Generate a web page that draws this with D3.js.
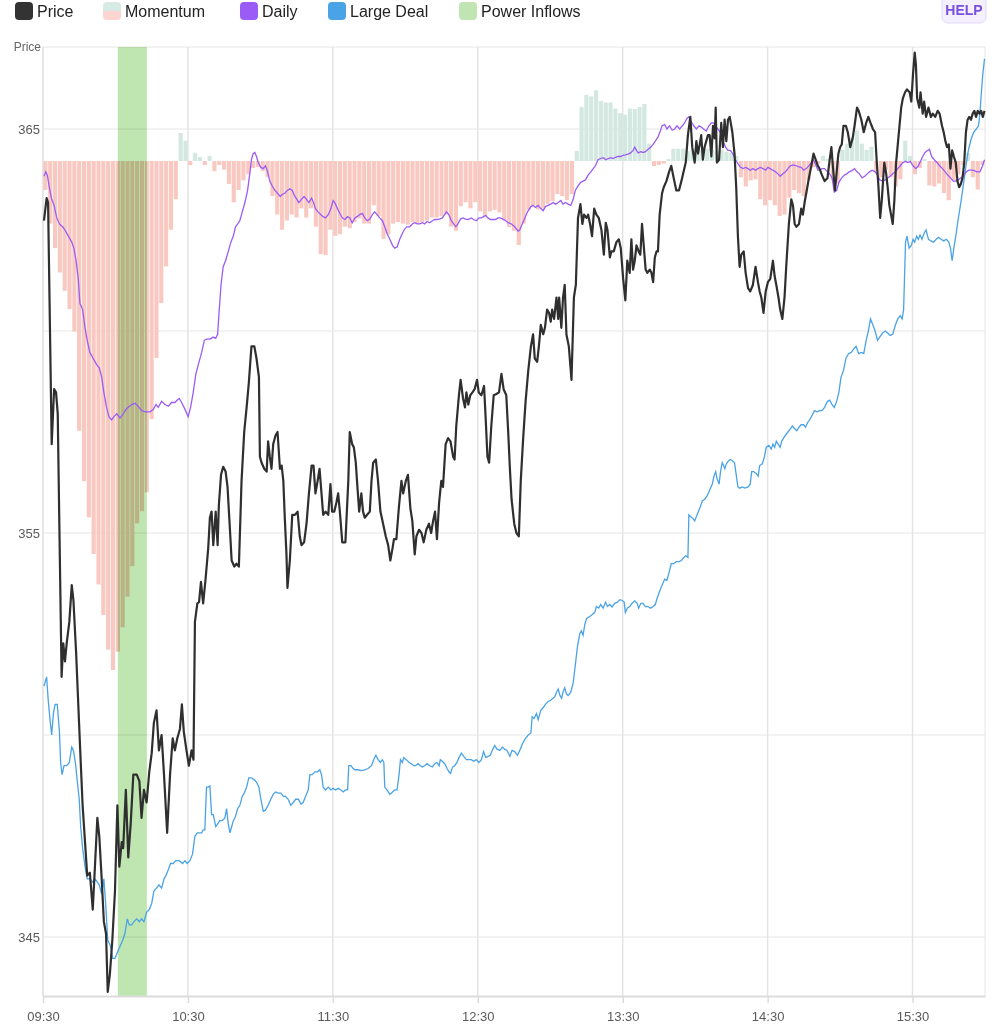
<!DOCTYPE html>
<html lang="en">
<head>
<meta charset="utf-8">
<style>
  body { margin: 0; background: #fff; font-family: "Liberation Sans", Arial, sans-serif; }
  .grid line { stroke: #e6e6e6; stroke-width: 1; }
  .vgrid line { stroke: #e4e4e4; stroke-width: 1.5; }
  .xaxis path, .xaxis line { stroke: #dcdcdc; }
  .xaxis path { stroke-width: 2; }
  .xaxis text, .yaxis text { fill: #5a5a5a; font-size: 13px; }
  .yaxis path, .yaxis line { display: none; }
  .legend text { font-size: 16px; fill: #222; }
</style>
</head>
<body>
<svg width="999" height="1024"></svg>
<script src="https://cdn.jsdelivr.net/npm/d3@7"></script>
<script>

// minutes since 09:30 -> value
var price = [[0.4,362.73],[1.5,363.29],[2.1,363.18],[3.6,357.2],[4.6,358.56],[5.4,358.48],[6.1,357.95],[6.8,355.08],[7.7,351.44],[8.4,352.27],[9.1,351.82],[9.8,352.27],[10.9,352.8],[11.9,353.71],[12.6,353.33],[13.7,352.05],[15.3,349.77],[16.4,348.26],[17.4,347.35],[18.3,346.52],[19.4,346.59],[20.6,345.68],[21.5,346.74],[22.5,347.95],[23.3,347.5],[24.3,346.44],[25.2,345.38],[26.1,345.08],[26.8,343.64],[27.7,344.09],[28.7,344.92],[29.8,346.14],[30.8,348.26],[31.6,346.74],[32.6,347.35],[33.2,347.2],[34.3,348.64],[35.3,346.97],[36.3,347.8],[37.4,349.02],[38.8,349.02],[39.9,348.86],[40.8,347.95],[41.8,348.64],[42.9,348.33],[44,349.09],[45,349.55],[45.9,350.3],[47,350.61],[48,349.62],[49.1,350],[50.1,349.02],[51.4,347.58],[52.6,349.02],[53.7,349.92],[54.6,349.62],[55.6,349.92],[56.7,350.15],[57.5,350.76],[58.3,350.08],[59.4,349.62],[60.4,349.24],[61.5,349.62],[62.3,349.39],[62.9,352.8],[63.9,353.26],[64.6,353.29],[65.4,353.79],[66.3,353.26],[67.3,353.86],[68.4,354.62],[69.1,355.38],[69.8,355.53],[70.5,354.7],[71.5,355.53],[72.3,354.7],[72.8,355.68],[73.7,356.44],[74.6,356.64],[75.6,356.52],[76.4,356.14],[77.4,355.08],[78.1,354.32],[79.2,354.17],[80.1,354.24],[81.1,354.17],[82.2,356.29],[83.3,357.5],[84.3,358.11],[85.2,358.71],[86.3,359.62],[87.5,359.62],[88.4,359.32],[89.4,358.86],[89.8,356.89],[90.5,356.74],[91.6,356.59],[92.6,356.52],[93.2,357.27],[93.9,356.89],[94.6,356.59],[95.3,357.2],[96.3,357.42],[97.1,357.5],[98.1,356.59],[98.8,356.67],[99.5,356.29],[100.1,355.38],[100.8,354.47],[101.2,353.64],[102.2,354.32],[103.2,355.45],[104.3,355.45],[105.4,355.53],[106.3,354.92],[107,354.7],[108.1,354.77],[109.1,355.23],[110.1,355.98],[111.2,356.67],[112,356.67],[112.8,355.98],[113.7,356.29],[114.5,356.59],[115.3,355.98],[116,355.45],[117,355.53],[118.1,355.45],[119,356.21],[119.7,355.53],[120.6,355.53],[121.5,355.76],[122.2,355.98],[122.9,355.53],[123.9,354.77],[125.2,354.77],[126.4,356.29],[127,357.5],[128,357.2],[128.7,357.12],[129.5,356.74],[130,356.29],[130.9,355.53],[131.8,355.98],[132.5,355.53],[133.2,355.38],[134.2,355.45],[135.3,355.53],[136,356.29],[136.7,356.74],[137.8,356.82],[138.7,356.29],[139.7,355.53],[140.8,355.23],[141.9,354.92],[142.9,354.7],[143.8,354.32],[144.7,354.62],[145.3,354.85],[146.3,354.85],[147.4,355.68],[148.4,356.29],[149.1,355.98],[150.2,356.29],[151.1,356.44],[152.1,355.61],[152.9,355.3],[153.9,354.47],[154.6,354.92],[155.7,355.08],[156.7,355],[157.6,354.77],[158.7,355.08],[159.8,355.23],[160.7,355],[161.5,355.3],[162.3,355.53],[163.1,354.85],[164,355.76],[164.9,356.29],[165.6,356.14],[166.7,357.2],[167.7,357.35],[168.7,357.27],[169.8,356.89],[170.4,356.82],[171.1,357.65],[172.2,358.41],[172.9,358.79],[173.9,358.33],[174.7,358.11],[175.3,358.48],[176.1,358.18],[176.9,358.41],[177.8,358.48],[178.7,358.56],[179.7,358.79],[180.4,358.48],[181.5,358.41],[182.6,358.64],[183.3,357.8],[184,356.89],[184.7,356.74],[185.6,357.65],[186.6,358.41],[187.7,358.44],[188.8,358.48],[189.8,358.94],[190.7,358.56],[191.8,358.41],[192.6,357.5],[193.3,356.59],[194,355.83],[195.1,355.23],[196,355],[197,354.92],[197.8,356.29],[198.8,357.35],[199.8,358.26],[200.9,359.02],[202,359.62],[202.9,359.92],[203.6,359.32],[204.6,359.24],[205.3,359.62],[206.1,360.15],[207.1,359.92],[207.8,360.08],[208.7,360.53],[209.5,360.45],[210.2,360.23],[210.8,360.53],[211.6,360.3],[212.6,360.83],[213.3,360.3],[213.7,360.83],[214.6,360.08],[215.3,360.83],[216,361.14],[216.7,359.92],[217.7,359.62],[218.8,358.79],[219.8,360.83],[220.6,361.14],[221.5,362.8],[222.5,363.14],[223.3,362.65],[224,362.88],[225,362.8],[225.7,362.88],[226.5,362.65],[227.3,362.35],[228.2,363.03],[229.1,362.88],[230.1,362.8],[231.2,362.5],[232.2,361.89],[233,362.68],[233.7,362.5],[234.7,361.82],[235.3,361.97],[236.3,361.97],[237.4,362.2],[238.4,362.27],[239.2,362.05],[240.2,361.29],[241.1,360.76],[241.9,361.74],[242.9,361.44],[243.6,362.27],[244.3,361.52],[245,361.74],[245.7,362.12],[246.6,361.97],[247.3,361.89],[248,362.65],[248.9,361.97],[249.5,361.52],[250.2,361.44],[251.2,361.52],[251.9,361.44],[252.6,361.21],[253.3,361.82],[254,361.97],[254.6,361.97],[255.3,362.88],[256.3,363.41],[257,363.56],[258.1,363.71],[259.2,363.94],[260.1,364.09],[261.1,363.79],[262.2,363.48],[263.3,363.48],[264.3,363.71],[265.2,363.94],[266.1,364.17],[267,364.85],[268,365.3],[268.8,364.55],[269.8,364.17],[270.5,364.7],[271.2,364.39],[271.9,364.62],[272.5,364.85],[273.2,364.24],[273.9,364.55],[274.6,364.7],[275.3,364.85],[276,364.85],[276.7,364.32],[277.4,365.08],[278.1,364.77],[278.5,365.53],[279,364.17],[279.9,364.24],[280.8,365.15],[281.5,364.55],[282.2,365.23],[282.9,364.7],[283.6,365.23],[284.3,365.3],[285.4,364.92],[286.3,364.39],[287,363.56],[287.7,362.35],[288.4,361.59],[289.1,361.89],[290.1,361.97],[290.9,361.44],[291.9,361.06],[292.8,360.98],[293.9,361.14],[295,361.59],[296,361.21],[296.7,360.98],[297.4,360.83],[298.3,360.45],[299.2,360.98],[300.1,361.21],[301.1,361.29],[302.2,361.74],[302.9,361.36],[303.6,361.14],[304.5,360.83],[305.2,360.53],[306.1,360.3],[307,360.83],[307.7,361.59],[308.8,362.65],[309.8,363.26],[310.5,363.11],[311.2,362.65],[311.9,362.58],[313,362.65],[313.9,363.03],[314.6,362.88],[315.3,363.18],[316,363.41],[317.1,363.79],[318.1,364.09],[319,364.39],[319.9,364.24],[320.8,364.09],[321.5,364.02],[322.5,363.86],[323.6,363.71],[324.8,363.79],[325.7,364.24],[326.4,364.55],[327.1,364.02],[327.9,363.48],[328.6,363.94],[329.3,364.39],[330,364.55],[330.7,364.62],[331.4,365.08],[332.4,365.08],[333.2,364.92],[334.2,364.55],[335.2,364.77],[336,365.08],[337,365.53],[337.7,365.45],[338.8,365.23],[339.8,364.92],[340.8,365.15],[341.7,365.3],[342.6,365.15],[343.6,365],[344.5,364.92],[345.2,364.17],[345.9,363.56],[346.6,362.8],[347.3,363.26],[348.3,364.17],[349,363.94],[349.7,363.56],[350.4,363.11],[351.1,362.88],[351.8,362.65],[352.5,363.26],[353.2,364.17],[353.9,364.62],[354.6,365.08],[355.3,365.53],[356,365.76],[356.9,365.91],[357.7,365.98],[358.8,365.91],[359.5,365.68],[360.2,366.36],[360.9,366.89],[361.4,366.59],[361.9,365.76],[362.8,365.53],[363.3,365.91],[364.2,365.38],[364.8,365.68],[365.6,365.3],[366.6,365.53],[367.6,365.3],[368.4,365.38],[369.4,365.3],[370.4,365.45],[371.2,365.38],[372.2,365.08],[372.9,364.92],[373.6,364.7],[374.3,364.55],[375,364.62],[375.7,364.02],[376.4,364.47],[377.1,364.32],[377.9,364.17],[378.6,363.71],[379.3,363.56],[380,363.64],[380.7,363.79],[381.4,364.17],[382.1,364.92],[382.8,365.23],[383.5,365.3],[384.2,365.23],[384.9,365.38],[385.6,365.45],[386.3,365.3],[387,365.45],[387.7,365.38],[388.4,365.45],[389.1,365.3],[389.8,365.45]];

var daily = [[0.4,363.83],[1.2,363.94],[1.8,363.86],[2.6,363.56],[3.6,363.26],[4.6,363.11],[5.7,362.8],[6.8,362.65],[8.1,362.58],[9.1,362.5],[10.5,362.35],[11.9,362.2],[12.8,362.05],[13.7,361.74],[14.6,361.29],[15.3,360.68],[16.4,360.53],[17.4,360.08],[18.3,359.77],[19.4,359.47],[20.8,359.32],[22.2,359.17],[23.3,359.09],[24.3,358.86],[25.2,358.48],[26.3,358.11],[27.3,357.88],[28.4,357.8],[29.4,357.88],[30.5,357.95],[31.9,357.85],[33.2,357.95],[34.3,358.06],[35.3,358.11],[36.7,358.18],[38.1,358.21],[39.4,358.14],[40.8,358.03],[42.6,358],[44.3,358],[45.7,358.06],[46.8,358.18],[47.7,358.11],[49.1,358.26],[50.5,358.18],[51.9,358.14],[53.2,358.23],[54.6,358.23],[55.6,358.29],[56.4,358.33],[57.4,358.23],[58.8,358.06],[60.1,357.88],[61.1,358.11],[62.2,358.48],[63.3,358.94],[64.3,359.17],[65.7,359.47],[66.8,359.77],[67.7,359.8],[69.1,359.8],[70.5,359.85],[71.5,359.82],[72.3,359.92],[72.8,360.38],[73.7,361.14],[74.6,361.59],[75.6,361.74],[76.7,361.97],[77.8,362.2],[78.8,362.35],[79.7,362.58],[80.6,362.65],[81.5,362.73],[82.5,362.95],[83.6,363.18],[84.7,363.48],[85.7,363.94],[86.3,364.24],[87,364.39],[87.7,364.42],[88.4,364.32],[89.1,364.17],[90.2,364.05],[91.2,364.02],[92.1,364.09],[93,363.94],[93.9,363.71],[94.9,363.59],[96,363.48],[97.1,363.41],[98.2,363.33],[99,363.38],[100.1,363.41],[101.2,363.48],[102.2,363.52],[103.2,363.48],[104.3,363.33],[105.1,363.26],[105.9,363.18],[107,363.26],[108.1,363.33],[109.1,363.26],[110.1,363.18],[111.2,363.29],[112,363.18],[112.8,363.03],[113.9,362.95],[115,362.88],[116,362.83],[117,362.8],[118.1,362.88],[119.2,363.03],[120.1,363.23],[120.8,363.18],[121.9,363.03],[122.9,362.91],[123.9,362.8],[125,362.76],[126.1,362.83],[127,362.8],[128,362.68],[129.1,362.8],[130,362.83],[131.1,362.88],[132.2,362.91],[133.2,362.8],[134.2,362.73],[135.3,362.77],[136.4,362.88],[137.3,362.95],[138.3,362.88],[139.4,362.8],[140.5,362.73],[141.5,362.58],[142.4,362.42],[143.6,362.27],[144.7,362.12],[145.6,362.05],[146.6,362.08],[147.7,362.27],[148.8,362.42],[149.8,362.53],[150.7,362.58],[151.8,362.58],[152.9,362.65],[153.9,362.68],[154.9,362.65],[156,362.65],[157.1,362.68],[158,362.65],[159,362.71],[160.1,362.68],[161.2,362.73],[162.2,362.76],[163.1,362.76],[164.2,362.77],[165.3,362.8],[166.3,362.88],[167,362.95],[168,362.88],[169.1,362.73],[170,362.65],[170.9,362.58],[171.8,362.65],[172.8,362.77],[173.9,362.8],[175,362.77],[176.1,362.76],[177.3,362.8],[178.3,362.76],[179.4,362.73],[180.5,362.8],[181.5,362.8],[182.4,362.83],[183.3,362.86],[184.2,362.8],[185.2,362.76],[186.3,362.76],[187.4,362.76],[188.4,362.8],[189.3,362.8],[190.4,362.77],[191.6,362.73],[192.5,362.68],[194,362.65],[195.3,362.58],[196.7,362.47],[197.4,362.5],[198.4,362.65],[199.5,362.8],[200.6,362.95],[202,363.08],[202.9,363.11],[203.9,363.06],[205,363.11],[206.1,363.03],[207.1,362.98],[208,363.08],[209.1,363.11],[210.2,363.14],[211.2,363.18],[212.2,363.14],[213.3,363.18],[214.4,363.23],[215.3,363.14],[216.3,363.18],[217.4,363.14],[218.5,363.11],[219.5,363.26],[220.4,363.48],[221.5,363.59],[222.6,363.68],[223.6,363.71],[224.6,363.74],[225.7,363.86],[226.8,363.94],[227.8,364.02],[228.7,364.09],[229.8,364.24],[230.9,364.27],[231.9,364.29],[233,364.24],[234,364.27],[235.1,364.29],[236,364.27],[237,364.3],[238.1,364.32],[239.2,364.32],[240.2,364.35],[241.1,364.36],[242.2,364.38],[243.3,364.41],[244.3,364.47],[245,364.55],[245.7,364.47],[246.4,364.41],[247.5,364.44],[248.4,364.42],[249.4,364.44],[250.5,364.5],[251.6,364.55],[252.6,364.62],[253.5,364.7],[254.6,364.8],[255.6,364.95],[256.3,365.08],[257.4,365.11],[258.3,365],[259.4,365.08],[260.5,364.97],[261.5,365],[262.5,365.08],[263.6,365],[264.7,365.08],[265.6,365.15],[266.6,365.26],[267.4,365.3],[268.4,365.18],[269.4,365.08],[270.5,365],[271.6,365.08],[272.5,365.05],[273.5,365],[274.6,364.95],[275.7,365.08],[276.7,365.15],[277.6,365.15],[278.5,365.08],[279.4,365],[280.4,364.92],[281.5,364.7],[282.6,364.55],[283.6,364.47],[284.5,364.47],[285.6,364.39],[286.7,364.24],[287.7,364.14],[288.7,364.06],[289.8,364.02],[290.9,364.05],[291.9,364.02],[292.8,363.98],[293.9,364.02],[295,363.98],[296,364.02],[297,364.05],[298.1,364.02],[299.2,363.98],[300.1,364.05],[301.1,364.02],[302.2,363.98],[303.3,363.94],[304.3,363.89],[305.2,363.83],[306.3,363.89],[307.4,363.94],[308.4,364.02],[309.4,364.09],[310.5,364.11],[311.9,364.09],[313,364.06],[313.9,364.05],[314.9,363.98],[316,364.02],[317.1,364.09],[318.1,364.17],[319,364.24],[320.1,364.09],[320.8,363.98],[321.5,363.98],[322.5,364.02],[323.6,364.02],[324.8,363.94],[325.7,363.89],[326.7,363.79],[327.6,363.44],[328.6,363.48],[329.5,363.68],[330.7,363.79],[331.8,363.86],[332.8,363.89],[333.8,363.94],[334.9,363.97],[336,364.02],[337,363.94],[338,363.89],[339.1,363.79],[340.2,363.83],[341.2,363.89],[342.2,363.94],[343.3,363.98],[344.5,363.94],[345.5,363.86],[346.4,363.74],[347.6,363.71],[348.7,363.74],[349.7,363.79],[350.7,363.83],[351.8,363.89],[352.9,363.94],[353.9,364.02],[354.9,364.09],[356,364.17],[357.1,364.2],[358.1,364.17],[359.1,364.2],[360.2,364.09],[361.4,364.02],[362.4,364.09],[363.3,364.2],[364.2,364.32],[365.2,364.42],[366.2,364.47],[367,364.5],[367.9,364.32],[369,364.24],[370.1,364.17],[371.2,364.09],[372.4,364.02],[373.5,363.94],[374.6,363.86],[375.7,363.79],[376.9,363.71],[377.9,363.71],[378.8,363.74],[380,363.79],[381.1,363.83],[382.2,363.94],[383.3,363.98],[384.5,363.98],[385.6,363.97],[386.7,363.94],[387.9,363.94],[389,364.09],[389.8,364.24]];

var largeDeal = [[0.4,351.21],[1.5,351.44],[2.2,350.83],[2.9,350.38],[3.6,350],[4.3,350.53],[5,350.76],[5.9,350.76],[6.8,350.08],[7.3,349.32],[7.9,349.02],[8.7,349.24],[9.8,349.24],[10.9,349.32],[11.9,349.7],[12.6,349.62],[13.4,349.32],[14.2,348.86],[15,348.41],[15.6,347.73],[16.4,347.2],[17.4,346.74],[18.3,346.44],[19.4,346.44],[20.6,346.36],[21.5,346.44],[22.5,346.36],[23.3,346.29],[24.3,346.06],[25.2,346.44],[26.1,345.68],[26.8,344.92],[27.4,344.85],[28,344.77],[28.8,344.47],[29.8,344.47],[30.8,344.62],[31.9,344.77],[33,344.92],[33.9,345.08],[34.9,345.45],[35.7,345.3],[36.7,345.3],[37.7,345.38],[38.8,345.45],[39.9,345.38],[40.8,345.45],[41.8,345.38],[42.9,345.61],[44,345.68],[45,345.83],[45.9,346.14],[47,346.21],[48,346.29],[49.1,346.21],[50.1,346.44],[50.9,346.52],[51.9,346.67],[52.8,346.82],[53.9,346.82],[55,346.89],[56.4,346.89],[57.8,346.82],[58.8,346.89],[59.7,346.82],[60.8,346.89],[61.9,347.05],[62.9,347.5],[63.9,347.58],[65.7,347.58],[66.3,347.65],[67,347.65],[67.7,348.71],[68.4,348.71],[69.1,348.74],[69.8,348.03],[70.5,348.03],[71.5,347.73],[72.3,347.8],[73.2,347.88],[74.2,347.88],[75.3,347.95],[76,348.18],[76.7,347.8],[77.4,347.58],[78.1,347.73],[78.8,347.88],[79.5,347.95],[80.6,348.18],[81.5,348.26],[82.5,348.48],[83.3,348.56],[84.3,348.71],[85.2,348.94],[86.3,348.94],[87.5,348.89],[88.4,348.83],[89.4,348.71],[90.2,348.41],[91.2,348.11],[92.1,348.14],[93.2,348.26],[94.3,348.41],[95.3,348.53],[96.3,348.59],[97.4,348.56],[98.5,348.56],[99.5,348.48],[100.4,348.48],[101.5,348.41],[102.6,348.26],[103.6,348.33],[104.6,348.41],[105.7,348.41],[106.8,348.29],[107.7,348.33],[108.7,348.48],[109.8,348.64],[110.5,349.02],[111.5,349.02],[112.6,349.09],[113.7,349.09],[114.6,349.14],[115.3,349.02],[116,348.71],[117,348.64],[118.1,348.71],[119.2,348.64],[120.1,348.68],[121.1,348.64],[122.2,348.68],[123.3,348.64],[124.3,348.59],[125.2,348.64],[126.1,348.64],[126.6,349.24],[127.5,349.24],[128.4,349.17],[129.1,349.14],[130.4,349.14],[131.8,349.12],[133.2,349.14],[134.6,349.17],[136,349.24],[136.9,349.39],[137.8,349.5],[138.7,349.39],[139.7,349.32],[140.5,349.39],[141.1,349.32],[141.5,348.71],[142.4,348.64],[143.6,348.53],[144.7,348.59],[145.6,348.64],[146.6,348.64],[147.4,349.02],[148,349.39],[148.8,349.32],[149.3,349.44],[150.4,349.39],[151.6,349.32],[152.5,349.29],[153.5,349.24],[154.3,349.24],[155.3,349.29],[156.2,349.24],[157.1,349.21],[158,349.24],[159,349.29],[160.1,349.24],[161.2,349.21],[162.2,349.29],[163.1,349.32],[164,349.24],[164.5,349.39],[165.3,349.35],[166.3,349.29],[167.3,349.17],[168.1,349.09],[168.7,349.05],[169.5,349.2],[170.4,349.24],[171.4,349.32],[172.2,349.44],[173.2,349.55],[174.2,349.47],[175.3,349.39],[176.4,349.39],[177.3,349.39],[178.3,349.35],[179.4,349.39],[180.5,349.32],[181.5,349.39],[182.4,349.59],[183.3,349.44],[184.2,349.47],[185.2,349.5],[186,349.62],[187,349.74],[188,349.65],[189.1,349.62],[190.2,349.7],[191.1,349.65],[192.1,349.62],[193.3,349.47],[194.2,349.62],[195.3,349.59],[196.4,349.5],[197.4,349.62],[198.4,349.77],[199.5,349.89],[200.9,350],[202,350.05],[202.5,350.45],[203.3,350.41],[204.3,350.53],[205,350.38],[206.1,350.61],[207.1,350.68],[208,350.76],[209.1,350.83],[210.2,350.86],[211.2,350.91],[211.9,350.95],[212.6,351.06],[213.3,351.14],[214,350.98],[214.7,350.91],[215.3,351.06],[216,351.17],[216.7,351.02],[217.4,350.98],[218.5,351.06],[219.5,351.29],[220.4,351.74],[221.3,352.2],[222.2,352.5],[222.9,352.58],[223.6,352.47],[224.3,352.73],[225,352.88],[226,352.92],[226.8,352.95],[227.8,353],[228.4,353.03],[229.1,353.18],[230.1,353.14],[230.9,353.23],[231.9,353.14],[232.9,353.29],[233.7,353.18],[234.7,353.23],[235.6,353.17],[236.7,353.26],[237.8,353.29],[238.8,353.35],[239.8,353.33],[240.6,353.29],[241.1,353.03],[241.9,353.14],[242.9,353.18],[243.9,353.26],[245,353.32],[246,353.26],[246.6,353.14],[247.5,353.26],[248.4,353.26],[249.4,353.18],[250.5,353.18],[251.6,353.14],[252.6,353.18],[253.5,353.23],[254.4,353.41],[255.3,353.56],[256.3,353.71],[257.4,353.86],[258.3,353.83],[259.2,354.02],[260.1,354.24],[261.1,354.24],[262.2,354.29],[263.3,354.29],[264.3,354.32],[265.2,354.39],[266.1,354.44],[267,354.39],[267.4,355.45],[268,355.41],[268.8,355.38],[269.8,355.3],[270.8,355.45],[271.9,355.61],[273,355.8],[273.9,355.83],[274.9,355.91],[276,356.06],[277.1,356.21],[277.8,356.41],[278.5,356.52],[279,356.36],[279.9,356.21],[280.5,356.52],[281.2,356.74],[281.8,356.67],[282.3,356.59],[282.9,356.71],[283.6,356.77],[284.5,356.82],[285.4,356.79],[286.3,356.74],[287,356.44],[287.7,356.14],[288.4,356.11],[289.5,356.14],[290.6,356.11],[291.9,356.14],[292.8,356.21],[293.4,356.52],[294.2,356.52],[295.3,356.47],[296.1,356.41],[296.7,356.67],[297.8,356.71],[298.7,356.89],[299.4,357.12],[300.5,357.17],[301.5,357.08],[302.2,357.2],[302.9,357.12],[303.6,357.27],[304.4,357.2],[305.2,357.12],[305.8,357.27],[306.6,357.35],[307.4,357.42],[308.4,357.5],[309.4,357.58],[310.2,357.65],[311.2,357.58],[312.1,357.53],[313,357.62],[313.9,357.68],[314.9,357.68],[315.7,357.62],[316.5,357.73],[317.4,357.8],[318.5,357.92],[319.4,358.03],[320.4,358],[321.5,358.03],[322.5,358.03],[323.6,358.11],[324.8,358.26],[325.7,358.29],[326.7,358.18],[327.6,358.11],[328.6,358.26],[329.5,358.48],[330.4,358.86],[331.4,359.02],[332.4,359.32],[333.5,359.44],[334.6,359.47],[335.6,359.55],[336.6,359.62],[337.7,359.44],[338.8,359.47],[339.8,359.44],[340.8,359.77],[341.7,360],[342.6,360.3],[343.6,360.15],[344.5,360],[345.5,359.77],[346.4,359.85],[347.6,359.95],[348.7,360],[349.7,359.95],[350.7,359.89],[351.8,359.92],[352.9,360.15],[353.9,360.3],[354.9,360.38],[355.7,360.3],[356.3,360.53],[357.1,362.2],[357.7,362.35],[358.6,362.05],[359.5,362.12],[360.2,362.27],[360.9,362.2],[361.7,362.35],[362.4,362.27],[363.1,362.38],[363.9,362.27],[364.8,362.42],[365.6,362.5],[366.6,362.27],[367.6,362.23],[368.7,362.2],[369.8,362.27],[370.8,362.32],[371.8,362.27],[372.9,362.23],[374,362.27],[375,362.2],[375.7,362.05],[376.4,361.74],[377.1,362.05],[377.9,362.35],[378.8,362.73],[380,363.18],[381.1,363.64],[382.1,364.09],[383.1,364.47],[384.2,364.74],[385.3,364.92],[386.4,365],[387.3,365.08],[387.9,365.38],[388.4,365.83],[389.1,366.36],[389.8,366.74]];

// momentum, one bar per 2-minute slot from 09:30
var momentumStep = 2;
var momentum = [-5.7,-12.3,-17.1,-21.9,-25.5,-29.1,-33.5,-53,-62.9,-70,-77.2,-83.2,-89.2,-96,-100,-96.4,-91.6,-85.6,-79.6,-71.2,-68.8,-65.1,-50.7,-38.7,-27.9,-20.7,-13.5,-7.5,5.5,4,-0.8,1.6,0.8,
  -0.8,1,-2,-0.8,-1.7,-4.5,-8.1,-5.7,-3.8,-2.6,-1.4,-1.2,-2,-3.2,-6.9,-10.5,-13.5,-11.7,-10.5,-11.1,-9.3,-11.1,-9.3,-12.9,-18.3,-18.5,-13.5,-14.7,-14.4,-12.9,-13.2,-12,
  -11.3,-12.3,-12.3,-8.7,-10.8,-15.3,-14.4,-12.3,-12,-12.3,-12.5,-12,-12.3,-12,-11.7,-11.1,-11.1,-10.8,-10.5,-12.9,-13.7,-8.9,-8.1,-9.3,-8.1,-9.9,-10.8,-9.9,-9.6,-10.1,-11.7,-13,
  -13.7,-16.5,-12.3,-9.6,-8.7,-9.5,-9.3,-8.4,-7.9,-6.5,-6.9,-7.7,-6.5,2,10.6,13,12.7,13.9,11.8,11.5,11.5,10.3,9.4,9.1,10.3,10.2,10.6,11.2,3.4,-1,-0.8,-0.5,
  0.4,2.4,2.4,2.4,1.9,2.2,1.9,2.2,2.4,2.2,1.9,2.2,1.8,1.6,1,-3.2,-5,-3.8,-3.6,-7.5,-8.7,-7.7,-8.7,-10.8,-10.5,-7.2,-5.7,-6.3,-6.9,-3.8,-1.2,-0.5,
  1,0.4,-3.6,-4.4,2.2,3.4,4.6,6,3.4,2.2,2.8,-2,-3.2,-1.7,-3.2,-5,-3.6,4,1,-2.6,-1.4,0.4,-4.8,-5,-4.4,-6.3,-7.7,-3.8,-2.6,-0.8,1.6,-3.2,-5.6,-0.8];

var powerInflows = [[31, 43]];   // 10:01 - 10:13

var hourTicks = [0, 60, 120, 180, 240, 300, 360];
var priceGrid = [345, 350, 355, 360, 365];
var priceLabels = [345, 355, 365];

var legendItems = [
  {name: "Price", color: "#333333"},
  {name: "Momentum", color: null},
  {name: "Daily", color: "#9b5cf5"},
  {name: "Large Deal", color: "#4aa3e6"},
  {name: "Power Inflows", color: "#c0e5b2"}
];

var svg = d3.select("svg");
var plotL = 43, plotR = 985, plotT = 47, plotB = 996;

var x = d3.scaleLinear().domain([0, 390]).range([plotL, plotR]);
var y = d3.scaleLinear().domain([343.54, 367.03]).range([plotB, plotT]);
var yMom = d3.scaleLinear().domain([-100, 0]).range([670, 161]);

function fmt(m) {
  var h = 9 + Math.floor((30 + m) / 60), mm = (30 + m) % 60;
  return (h < 10 ? "0" : "") + h + ":" + (mm < 10 ? "0" : "") + mm;
}

// grid
svg.append("g").attr("class", "grid")
  .selectAll("line").data(priceGrid).enter().append("line")
  .attr("x1", plotL).attr("x2", plotR)
  .attr("y1", function(d) { return y(d); }).attr("y2", function(d) { return y(d); });

svg.append("g").attr("class", "vgrid")
  .selectAll("line").data(hourTicks.slice(1)).enter().append("line")
  .attr("x1", function(d) { return x(d); }).attr("x2", function(d) { return x(d); })
  .attr("y1", plotT).attr("y2", plotB);

// frame
svg.append("line").attr("x1", plotL).attr("x2", plotR).attr("y1", plotT).attr("y2", plotT)
  .attr("stroke", "#e6e6e6");
svg.append("line").attr("x1", plotR).attr("x2", plotR).attr("y1", plotT).attr("y2", plotB)
  .attr("stroke", "#e6e6e6");
svg.append("line").attr("x1", plotL).attr("x2", plotL).attr("y1", plotT).attr("y2", plotB)
  .attr("stroke", "#dedede").attr("stroke-width", 1.5);

// momentum bars
var bw = x(momentumStep) - x(0);
svg.append("g").selectAll("rect").data(momentum).enter().append("rect")
  .attr("x", function(d, i) { return x(i * momentumStep) + 0.3; })
  .attr("width", bw - 0.7)
  .attr("y", function(d) { return yMom(Math.max(d, 0)); })
  .attr("height", function(d) { return Math.abs(yMom(d) - yMom(0)); })
  .attr("fill", function(d) { return d >= 0 ? "#d3e8e0" : "#f8c8c1"; });

// power inflows band
svg.append("g").selectAll("rect").data(powerInflows).enter().append("rect")
  .attr("x", function(d) { return x(d[0]); })
  .attr("width", function(d) { return x(d[1]) - x(d[0]); })
  .attr("y", plotT).attr("height", plotB - plotT)
  .attr("fill", "#bfe5b0")
  .style("mix-blend-mode", "multiply");

// lines
var line = d3.line().x(function(d) { return x(d[0]); }).y(function(d) { return y(d[1]); });

svg.append("path").datum(largeDeal).attr("d", line)
  .attr("fill", "none").attr("stroke", "#4aa3e6").attr("stroke-width", 1.3);
svg.append("path").datum(daily).attr("d", line)
  .attr("fill", "none").attr("stroke", "#9b5cf5").attr("stroke-width", 1.3);
svg.append("path").datum(price).attr("d", line)
  .attr("fill", "none").attr("stroke", "#2f2f2f").attr("stroke-width", 2.2)
  .attr("stroke-linejoin", "round");

// axes
var xAxis = svg.append("g").attr("class", "xaxis")
  .attr("transform", "translate(0," + plotB + ")")
  .call(d3.axisBottom(x).tickValues(hourTicks).tickFormat(fmt).tickSize(7).tickPadding(9).tickSizeOuter(0));
xAxis.selectAll(".tick line").attr("stroke-width", 1.5);

svg.append("g").attr("class", "yaxis")
  .attr("transform", "translate(" + plotL + ",0)")
  .call(d3.axisLeft(y).tickValues(priceLabels).tickSize(0).tickPadding(3));

svg.append("text").attr("x", 41).attr("y", 51).attr("text-anchor", "end")
  .attr("font-size", 12).attr("fill", "#666").text("Price");

// legend
var legendX = [15, 103, 240, 328, 459];
var lg = svg.append("g").attr("class", "legend");
legendItems.forEach(function(d, i) {
  var g = lg.append("g").attr("transform", "translate(" + legendX[i] + ",2)");
  if (d.color) {
    g.append("rect").attr("width", 18).attr("height", 18).attr("rx", 4).attr("fill", d.color);
  } else {
    g.append("clipPath").attr("id", "mclip").append("rect")
      .attr("width", 18).attr("height", 18).attr("rx", 4);
    g.append("rect").attr("width", 18).attr("height", 9).attr("fill", "#d5ebe3").attr("clip-path", "url(#mclip)");
    g.append("rect").attr("y", 9).attr("width", 18).attr("height", 9).attr("fill", "#fcd5d0").attr("clip-path", "url(#mclip)");
  }
  g.append("text").attr("x", 22).attr("y", 15).text(d.name);
});

// help button
svg.append("rect").attr("x", 942).attr("y", -5).attr("width", 44).attr("height", 28).attr("rx", 6)
  .attr("fill", "#f4f0fe").attr("stroke", "#e2d8fb");
svg.append("text").attr("x", 964).attr("y", 15).attr("text-anchor", "middle")
  .attr("font-size", 14).attr("font-weight", "bold").attr("fill", "#7a4fe0").text("HELP");

</script>
</body>
</html>
